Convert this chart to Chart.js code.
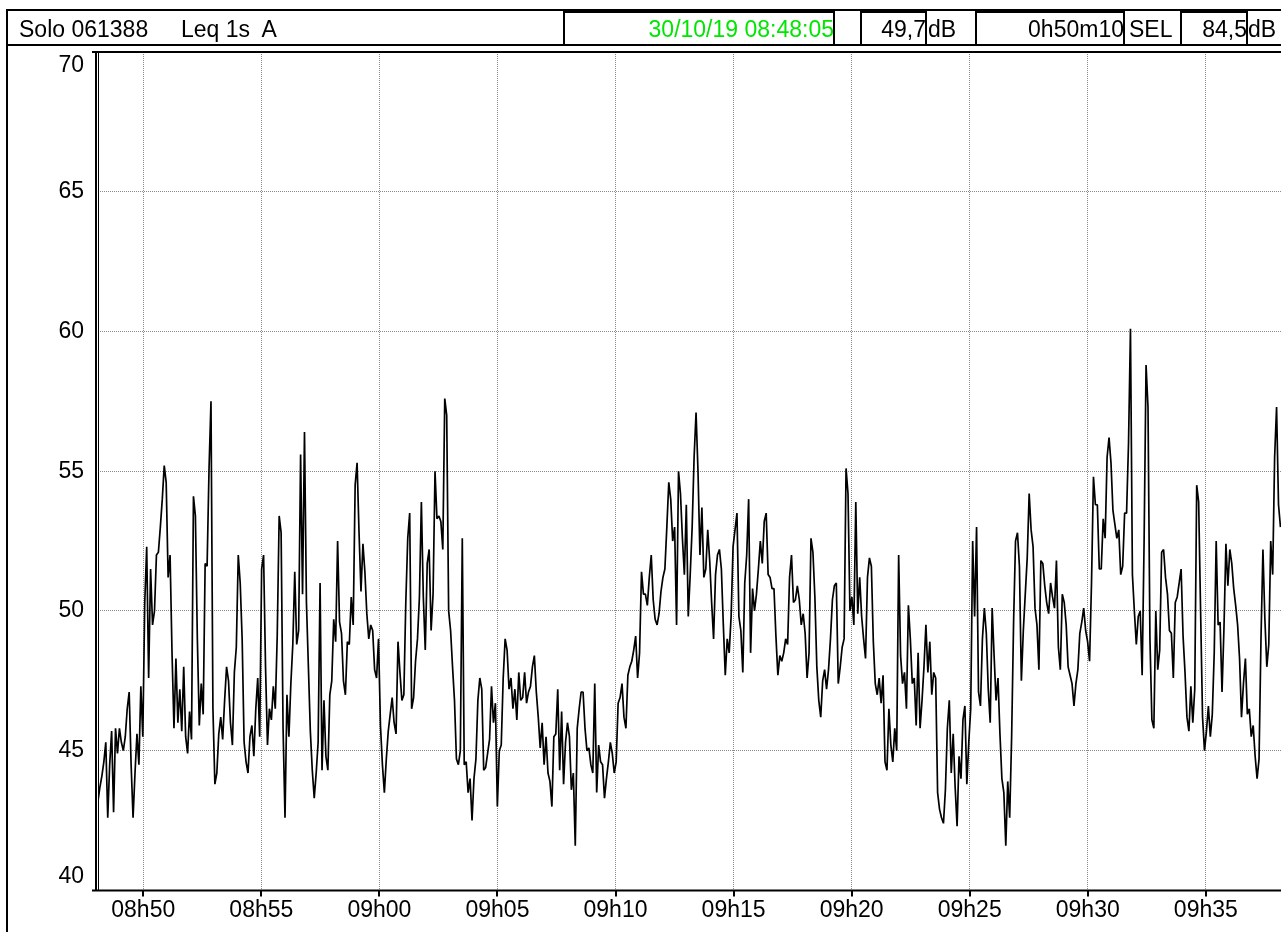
<!DOCTYPE html>
<html>
<head>
<meta charset="utf-8">
<title>Solo 061388 - Leq 1s A</title>
<script src="https://cdn.jsdelivr.net/npm/chart.js@4/dist/chart.umd.min.js"></script>
<style>
  body { margin: 0; background: #fff; font-family: "Liberation Sans", Arial, sans-serif; }
  #page { position: relative; width: 1281px; height: 932px; overflow: hidden; }
  #myChart { position: absolute; left: 0; top: 0; }
  .hdr { position: absolute; left: 6px; top: 9px; width: 1300px; height: 37px; border: 2px solid #000; box-sizing: border-box; }
  .box { position: absolute; top: 11px; height: 35px; border: 2px solid #000; box-sizing: border-box; }
  .txt { position: absolute; top: 18px; font-size: 23px; line-height: 23px; white-space: pre; color: #000; }
  .leftline { position: absolute; left: 6px; top: 9px; width: 2px; height: 923px; background: #000; }
</style>
</head>
<body>
<div id="page">
  <canvas id="myChart" width="1281" height="932"></canvas>
  <div class="leftline"></div>
  <div class="hdr"></div>
  <div class="box" style="left:563px;width:272px"></div>
  <div class="box" style="left:860px;width:67px"></div>
  <div class="box" style="left:975px;width:150px"></div>
  <div class="box" style="left:1180px;width:68px"></div>
  <span class="txt" style="left:19px">Solo 061388</span>
  <span class="txt" style="left:181px">Leq 1s  A</span>
  <span class="txt" style="right:447px;color:#00e600">30/10/19 08:48:05</span>
  <span class="txt" style="right:355px">49,7</span>
  <span class="txt" style="left:928px">dB</span>
  <span class="txt" style="right:157px">0h50m10</span>
  <span class="txt" style="left:1129px">SEL</span>
  <span class="txt" style="right:34px">84,5</span>
  <span class="txt" style="left:1248px">dB</span>
</div>
<script>
const ctx = document.getElementById('myChart');

// seconds after the start of the record (30/10/19 08:48:05)
const sampleStep = 4.95;
const endSec = 3006;

// Leq 1s A level (dB) at roughly 5 s intervals
const levels = [
  43.2, 43.7, 44.1, 44.6, 45.3, 42.6, 44.5, 45.7, 42.8, 45.8,
  44.9, 45.8, 45.3, 45.0, 45.5, 46.5, 47.1, 44.5, 42.6, 44.2,
  45.6, 44.5, 47.3, 45.5, 50.3, 52.3, 47.6, 51.5, 49.5, 50.0,
  52.0, 52.1, 53.0, 54.0, 55.2, 54.6, 51.2, 52.0, 48.5, 45.8,
  48.3, 46.0, 47.2, 45.7, 48.0, 45.5, 44.9, 46.4, 45.4, 54.1,
  53.4, 49.0, 45.9, 47.4, 46.3, 51.7, 51.6, 55.1, 57.5, 46.5,
  43.8, 44.2, 45.6, 46.2, 45.4, 46.8, 48.0, 47.5, 46.0, 45.2,
  47.8, 48.7, 52.0, 51.0, 49.0, 45.3, 44.6, 44.2, 45.5, 45.9,
  44.8, 46.5, 47.6, 45.5, 51.5, 52.0, 48.0, 45.2, 46.5, 46.1,
  47.3, 46.5, 49.1, 53.4, 52.8, 45.8, 42.6, 47.0, 45.5, 47.4,
  48.8, 51.4, 48.8, 49.3, 55.6, 50.6, 56.4, 50.3, 48.0, 45.7,
  44.3, 43.3, 44.2, 45.3, 51.0, 44.3, 46.8, 44.8, 44.3, 47.0,
  47.5, 49.7, 48.9, 52.5, 49.6, 49.2, 47.5, 47.0, 48.9, 48.8,
  50.5, 49.5, 54.5, 55.3, 52.8, 50.7, 52.4, 51.4, 49.9, 49.0,
  49.5, 49.3, 47.9, 47.6, 49.0, 45.9, 44.5, 43.5, 44.7, 45.7,
  46.3, 46.9, 46.0, 45.6, 48.9, 47.8, 46.8, 47.0, 50.3, 52.6,
  53.5, 46.5, 46.9, 48.2, 49.0, 50.5, 53.9, 50.5, 48.6, 51.7,
  52.2, 49.3, 50.6, 55.0, 53.3, 53.4, 53.2, 52.2, 57.6, 57.0,
  50.0, 49.3, 48.0, 46.8, 44.7, 44.5, 45.0, 52.6, 44.5, 44.6,
  43.5, 44.0, 42.5, 44.0, 44.7, 46.8, 47.6, 47.2, 44.3, 44.4,
  44.9, 45.4, 47.3, 46.0, 46.7, 43.0, 45.0, 45.2, 47.6, 49.0,
  48.6, 47.2, 47.6, 46.5, 47.2, 46.1, 47.8, 46.8, 46.9, 47.8,
  46.7, 47.1, 47.3, 48.0, 48.4, 47.1, 46.2, 45.1, 46.0, 44.5,
  45.5, 44.2, 43.9, 43.0, 45.5, 45.6, 47.2, 44.3, 46.4, 43.8,
  45.3, 46.0, 45.5, 43.6, 44.2, 41.6, 45.8, 46.5, 47.1, 47.1,
  45.8, 45.0, 45.1, 44.5, 44.2, 47.4, 43.5, 45.2, 44.6, 44.5,
  43.3, 44.0, 44.6, 45.3, 44.9, 44.2, 44.6, 46.7, 46.9, 47.4,
  46.2, 45.8, 47.7, 48.0, 48.2, 48.6, 49.1, 47.6, 48.5, 51.4,
  50.6, 50.6, 50.2, 51.2, 52.0, 50.4, 49.7, 49.5, 49.9, 50.7,
  51.2, 51.5, 53.0, 54.6, 54.0, 52.5, 53.0, 49.5, 55.0, 54.2,
  52.6, 51.3, 53.8, 49.8, 51.3, 53.0, 55.5, 57.1, 55.0, 52.0,
  53.7, 51.2, 51.5, 52.9, 51.8, 50.3, 49.0, 51.3, 52.0, 52.2,
  51.5, 49.5, 47.7, 49.0, 48.5, 49.8, 52.3, 52.9, 53.5, 49.8,
  49.3, 47.8, 51.0, 52.0, 54.0, 48.5, 50.8, 50.0, 50.6, 51.5,
  52.5, 51.7, 53.2, 53.5, 51.3, 51.2, 50.8, 50.8, 49.1, 47.7,
  48.4, 48.2, 48.5, 49.0, 48.8, 51.2, 52.0, 50.3, 50.4, 50.9,
  50.4, 49.5, 49.9, 49.2, 47.6, 48.5, 52.6, 52.1, 50.5, 48.0,
  46.8, 46.2, 47.5, 47.9, 47.2, 47.9, 49.0, 50.4, 50.9, 51.0,
  47.4, 48.0, 48.7, 49.0, 55.1, 54.2, 50.0, 50.5, 49.5, 53.9,
  49.9, 51.2, 49.8, 49.0, 48.3, 51.2, 51.9, 51.6, 48.9, 47.4,
  47.0, 47.6, 46.7, 47.7, 44.6, 44.3, 46.5, 45.2, 44.6, 45.8,
  45.0, 52.0, 48.4, 47.4, 47.8, 46.5, 50.2, 49.0, 47.4, 47.6,
  45.9, 48.5, 45.8, 46.8, 48.0, 49.5, 47.8, 48.9, 47.0, 47.8,
  47.6, 43.5, 42.9, 42.6, 42.4, 43.6, 45.8, 46.8, 44.2, 45.6,
  43.7, 42.3, 44.8, 44.0, 46.1, 46.6, 43.8, 45.3, 46.5, 52.5,
  49.8, 53.0, 47.1, 46.6, 49.0, 50.1, 49.2, 47.2, 46.0, 50.1,
  48.4, 46.8, 47.6, 45.6, 44.0, 43.5, 41.6, 43.9, 42.6, 45.5,
  49.6, 52.5, 52.8, 51.6, 47.5, 49.3, 50.6, 51.9, 54.2, 52.9,
  52.3, 50.1, 49.5, 47.9, 51.8, 51.7, 50.9, 50.3, 49.9, 51.0,
  50.5, 50.1, 51.8, 48.7, 47.9, 50.6, 50.3, 49.5, 48.0, 47.7,
  47.4, 46.6, 47.4, 47.9, 49.2, 49.6, 50.1, 49.3, 48.9, 48.2,
  51.0, 54.8, 53.8, 53.8, 51.5, 51.5, 53.3, 52.6, 55.5, 56.2,
  55.3, 53.6, 53.1, 52.6, 52.9, 51.3, 51.6, 53.5, 53.5, 56.0,
  60.1, 51.3, 50.0, 48.8, 49.8, 50.0, 47.7, 52.5, 58.8, 57.3,
  49.0, 46.1, 45.8, 50.0, 47.9, 48.6, 52.1, 52.2, 51.2, 50.6,
  49.3, 49.2, 47.6, 50.3, 50.5, 51.0, 51.5, 49.1, 47.8, 46.2,
  45.7, 47.3, 46.0, 47.2, 54.5, 53.9, 50.0, 46.2, 45.0, 45.7,
  46.6, 45.5, 46.3, 48.5, 52.5, 49.5, 49.6, 47.1, 49.4, 52.4,
  50.9, 52.2, 51.7, 50.8, 50.2, 49.5, 48.3, 46.2, 47.4, 48.3,
  46.3, 46.5, 45.5, 45.9, 44.8, 44.0, 44.7, 49.0, 52.2, 49.7,
  48.0, 48.8, 52.5, 51.3, 55.5, 57.3, 53.8, 53.0
];

const xTickSecs = [115, 415, 715, 1015, 1315, 1615, 1915, 2215, 2515, 2815];
const xTickLabels = ['08h50', '08h55', '09h00', '09h05', '09h10', '09h15', '09h20', '09h25', '09h30', '09h35'];
const yTicks = [40, 45, 50, 55, 60, 65, 70];

const points = levels.map((v, i) => ({ x: i * sampleStep, y: v }));

// black axis frame (double left line, bottom line with tick marks)
const axisFrame = {
  id: 'axisFrame',
  afterDraw(chart) {
    const { ctx, chartArea: a, scales } = chart;
    ctx.save();
    ctx.strokeStyle = '#000';
    ctx.lineWidth = 2;
    ctx.beginPath();
    ctx.moveTo(a.left - 6, a.top); ctx.lineTo(a.right, a.top);
    ctx.moveTo(a.left - 6, a.bottom); ctx.lineTo(a.right, a.bottom);
    ctx.moveTo(a.left - 2, a.top - 1); ctx.lineTo(a.left - 2, a.bottom + 1);
    scales.x.ticks.forEach(t => {
      const px = Math.round(scales.x.getPixelForValue(t.value));
      ctx.moveTo(px, a.bottom); ctx.lineTo(px, a.bottom + 6);
    });
    ctx.stroke();
    ctx.lineWidth = 1;
    ctx.beginPath();
    ctx.moveTo(a.left + 0.5, a.top); ctx.lineTo(a.left + 0.5, a.bottom);
    ctx.stroke();
    ctx.restore();
  }
};

const labelFont = { family: '"Liberation Sans", Arial, sans-serif', size: 23 };

new Chart(ctx, {
  type: 'line',
  data: {
    datasets: [{
      data: points,
      borderColor: '#000',
      borderWidth: 1.7,
      borderJoinStyle: 'bevel',
      pointRadius: 0,
      tension: 0
    }]
  },
  options: {
    responsive: false,
    animation: false,
    devicePixelRatio: 1,
    events: [],
    layout: { padding: { top: 52, right: 0, bottom: 0, left: 0 } },
    plugins: { legend: { display: false }, tooltip: { enabled: false } },
    scales: {
      x: {
        type: 'linear',
        min: 0,
        max: endSec,
        afterBuildTicks: s => { s.ticks = xTickSecs.map(v => ({ value: v })); },
        afterFit: s => { s.height = 31; },
        ticks: {
          autoSkip: false,
          maxRotation: 0,
          padding: 6,
          color: '#000',
          font: labelFont,
          callback: (v, i) => xTickLabels[i]
        },
        grid: { color: '#8a8a8a', lineWidth: 1, drawTicks: false },
        border: { display: false, dash: [1, 1] }
      },
      y: {
        min: 40,
        max: 70,
        afterBuildTicks: s => { s.ticks = yTicks.map(v => ({ value: v })); },
        afterFit: s => { s.width = 98; },
        ticks: {
          padding: 14,
          color: '#000',
          font: Object.assign({ lineHeight: 1.2 }, labelFont),
          // end labels sit inside the frame, as in the original
          callback: v => v === 70 ? ['', '70'] : v === 40 ? ['40', ''] : String(v)
        },
        grid: { color: '#8a8a8a', lineWidth: 1, drawTicks: false },
        border: { display: false, dash: [1, 1] }
      }
    }
  },
  plugins: [axisFrame]
});
</script>
</body>
</html>
